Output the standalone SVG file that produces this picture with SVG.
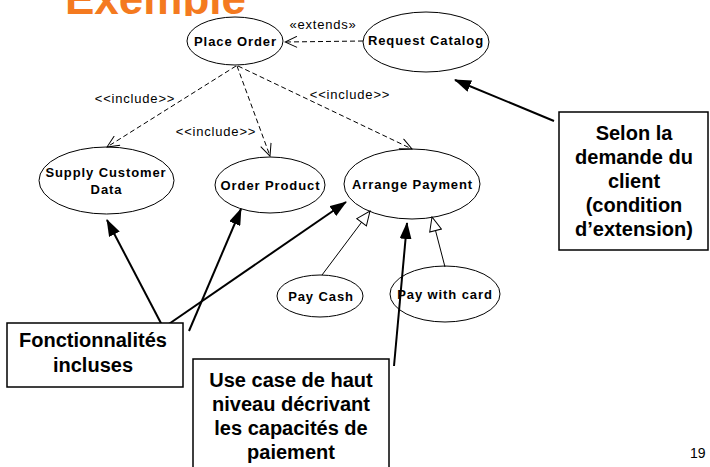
<svg xmlns="http://www.w3.org/2000/svg" width="710" height="467" viewBox="0 0 710 467">
  <defs>
    <style>
      .uc { fill: #fff; stroke: #000; stroke-width: 1; }
      .uct { font-family: "Liberation Sans", Arial, sans-serif; font-weight: bold; font-size: 13px; letter-spacing: 0.9px; text-anchor: middle; fill: #000; }
      .stereo { font-family: "Liberation Sans", Arial, sans-serif; font-size: 13px; letter-spacing: 0.8px; text-anchor: middle; fill: #000; }
      .dep { fill: none; stroke: #000; stroke-width: 1; stroke-dasharray: 5 3; marker-end: url(#open); }
      .gen { fill: none; stroke: #000; stroke-width: 1; marker-end: url(#hollow); }
      .note { fill: #fff; stroke: #000; stroke-width: 1.5; }
      .notet { font-family: "Liberation Sans", Arial, sans-serif; font-weight: bold; font-size: 20px; text-anchor: middle; fill: #000; }
      .ptr { fill: none; stroke: #000; stroke-width: 2; marker-end: url(#solid); }
    </style>
    <marker id="open" viewBox="0 0 14 12" markerUnits="userSpaceOnUse" markerWidth="14" markerHeight="12" refX="13" refY="6" orient="auto">
      <path d="M1,0.5 L13,6 L1,11.5" fill="none" stroke="#000" stroke-width="1"/>
    </marker>
    <marker id="hollow" viewBox="0 0 16 14" markerUnits="userSpaceOnUse" markerWidth="16" markerHeight="14" refX="15" refY="7" orient="auto">
      <path d="M1,1 L15,7 L1,13 z" fill="#fff" stroke="#000" stroke-width="1"/>
    </marker>
    <marker id="solid" viewBox="0 0 17 12" markerUnits="userSpaceOnUse" markerWidth="17" markerHeight="12" refX="16" refY="6" orient="auto">
      <path d="M0,0 L17,6 L0,12 z" fill="#000"/>
    </marker>
    <clipPath id="titleClip">
      <rect x="0" y="0" width="710" height="16"/>
    </clipPath>
  </defs>

  <rect width="710" height="467" fill="#fff"/>

  <!-- slide title, cut by the top edge -->
  <g id="title" clip-path="url(#titleClip)">
    <text x="65" y="14" font-family="'Liberation Sans', Arial, sans-serif" font-weight="bold" font-size="44" fill="#F47A20">Exemple</text>
  </g>

  <!-- use cases -->
  <g id="place-order">
    <ellipse class="uc" cx="235" cy="41" rx="48" ry="24"/>
    <text class="uct" x="235.5" y="46">Place Order</text>
  </g>
  <g id="request-catalog">
    <ellipse class="uc" cx="426" cy="42" rx="63" ry="30"/>
    <text class="uct" x="426" y="45">Request Catalog</text>
  </g>
  <g id="supply-customer-data">
    <ellipse class="uc" cx="106.5" cy="180.5" rx="67.5" ry="33.5"/>
    <text class="uct" x="106" y="177">Supply Customer</text>
    <text class="uct" x="106.5" y="194">Data</text>
  </g>
  <g id="order-product">
    <ellipse class="uc" cx="270" cy="185" rx="55" ry="28"/>
    <text class="uct" x="270.5" y="190">Order Product</text>
  </g>
  <g id="arrange-payment">
    <ellipse class="uc" cx="412" cy="184" rx="68" ry="35"/>
    <text class="uct" x="412.5" y="189">Arrange Payment</text>
  </g>
  <g id="pay-cash">
    <ellipse class="uc" cx="320" cy="296" rx="43" ry="21"/>
    <text class="uct" x="321" y="301">Pay Cash</text>
  </g>
  <g id="pay-with-card">
    <ellipse class="uc" cx="445" cy="294" rx="55" ry="28"/>
    <text class="uct" x="445" y="299">Pay with card</text>
  </g>

  <!-- connectors: dependencies, generalisations and note pointers (drawn over the ellipses) -->
  <g id="connectors">
    <path class="dep" d="M363,41 L285,42"/>
    <path class="dep" d="M236,66 L107,147"/>
    <path class="dep" d="M237,66 L270,156"/>
    <path class="dep" d="M238,66 L412,149"/>
    <path class="gen" d="M322,275 L370,211"/>
    <path class="gen" d="M445,267 L432,217"/>
    <path class="ptr" d="M554,121 L455,80"/>
    <path class="ptr" d="M163,327 L107,220"/>
    <path class="ptr" d="M163,328 L346,202"/>
    <path class="ptr" d="M189,331 L241,209"/>
    <path class="ptr" d="M394,366 L407,223"/>
  </g>

  <!-- stereotype labels -->
  <g id="labels">
    <text class="stereo" x="323" y="29">«extends»</text>
    <text class="stereo" x="135" y="103">&lt;&lt;include&gt;&gt;</text>
    <text class="stereo" x="216" y="136">&lt;&lt;include&gt;&gt;</text>
    <text class="stereo" x="350" y="99">&lt;&lt;include&gt;&gt;</text>
  </g>

  <!-- annotation boxes -->
  <g id="note-extension">
    <rect class="note" x="559" y="112" width="149" height="138"/>
    <text class="notet" x="634" y="140">Selon la</text>
    <text class="notet" x="634" y="164">demande du</text>
    <text class="notet" x="634" y="188">client</text>
    <text class="notet" x="634" y="212">(condition</text>
    <text class="notet" x="634" y="236">d’extension)</text>
  </g>
  <g id="note-included">
    <rect class="note" x="7" y="323" width="176" height="64"/>
    <text class="notet" x="93" y="347">Fonctionnalités</text>
    <text class="notet" x="93" y="372">incluses</text>
  </g>
  <g id="note-payment">
    <rect class="note" x="193" y="359" width="196" height="120"/>
    <text class="notet" x="291" y="387">Use case de haut</text>
    <text class="notet" x="291" y="411">niveau décrivant</text>
    <text class="notet" x="291" y="435">les capacités de</text>
    <text class="notet" x="291" y="459">paiement</text>
  </g>

  <!-- page number -->
  <text id="page-number" x="690" y="458" font-family="'Liberation Sans', Arial, sans-serif" font-size="14" fill="#000">19</text>
</svg>
